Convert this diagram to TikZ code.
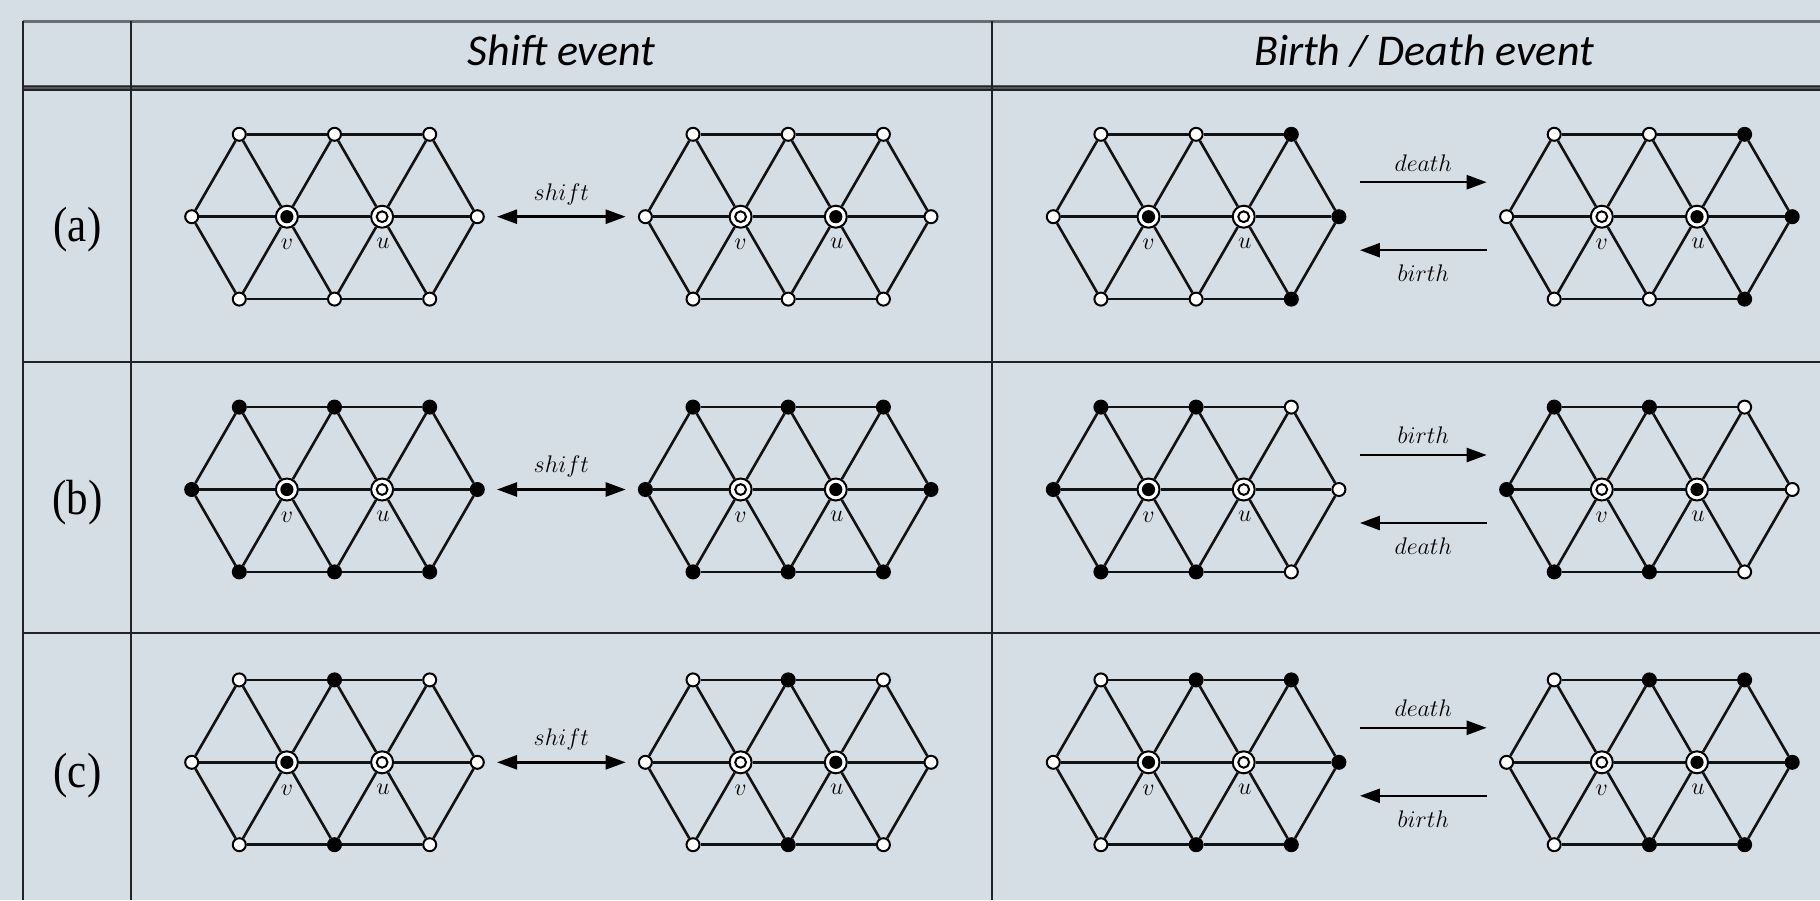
\documentclass[tikz,border=0pt]{standalone}
\usepackage{fontspec}
\newfontfamily\hdrfont{Carlito}
\newfontfamily\rowfont{Liberation Serif}
\usetikzlibrary{arrows.meta}
\definecolor{bg}{RGB}{214,222,229}
\definecolor{rulecol}{RGB}{32,34,38}
\definecolor{toprule}{RGB}{105,110,116}
\newcommand\lblsize{\fontsize{12}{14}\selectfont}
% #1 prefix, #2 x of left vertex, #3 y of middle row, #4 T1/L, #5 T2, #6 T3/R, #7 v style, #8 u style
\newcommand\hexa[8]{%
  \node[#4] (#1L)  at (#2,#3) {};
  \node[#7] (#1v)  at ({#2+95.2},#3) {};
  \node[#8] (#1u)  at ({#2+190.4},#3) {};
  \node[#6] (#1R)  at ({#2+285.6},#3) {};
  \node[#4] (#1T1) at ({#2+47.6},{#3-82.4}) {};
  \node[#5] (#1T2) at ({#2+142.8},{#3-82.4}) {};
  \node[#6] (#1T3) at ({#2+238},{#3-82.4}) {};
  \node[#4] (#1B1) at ({#2+47.6},{#3+82.4}) {};
  \node[#5] (#1B2) at ({#2+142.8},{#3+82.4}) {};
  \node[#6] (#1B3) at ({#2+238},{#3+82.4}) {};
  \draw[edge] (#1T1)--(#1T2)--(#1T3);
  \draw[edge] (#1L)--(#1v)--(#1u)--(#1R);
  \draw[edge] (#1B1)--(#1B2)--(#1B3);
  \draw[edge] (#1L)--(#1T1)--(#1v)--(#1T2)--(#1u)--(#1T3)--(#1R);
  \draw[edge] (#1L)--(#1B1)--(#1v)--(#1B2)--(#1u)--(#1B3)--(#1R);
  \node[lbl] (#1vl) at ({#2+95.2},{#3+28}) {$v$};
  \node[lbl] (#1ul) at ({#2+191.4},{#3+27}) {$u$};
}
\newcommand\shiftarr[2]{%
  \draw[arr2] (#1R) -- (#2L) node[midway,lbl,anchor=base,yshift=8.3pt] {$shift$};
}
\newcommand\bdarr[4]{%
  \draw[arr] ([xshift=10.5pt,yshift=17.25pt]#1R.center) -- ([xshift=-9.95pt,yshift=17.25pt]#2L.center)
     node[midway,lbl,anchor=base,yshift=5.6pt] {$#3$};
  \draw[arr] ([xshift=-9.95pt,yshift=-16.75pt]#2L.center) -- ([xshift=10.5pt,yshift=-16.75pt]#1R.center)
     node[midway,lbl,anchor=north,yshift=-6.7pt] {$#4$};
}
\begin{document}
\begin{tikzpicture}[x=0.5pt,y=-0.5pt,
  edge/.style={line width=1.3pt,color=black!93},
  vbase/.style={circle,draw=black,line width=1pt,inner sep=0pt,minimum size=6.5pt},
  wv/.style={vbase,fill=white},
  bv/.style={vbase,fill=black},
  ringb/.style={circle,draw=black,fill=white,line width=1pt,inner sep=0pt,minimum size=11pt,
    path picture={\fill[black] (path picture bounding box.center) circle (3.3pt);}},
  ringw/.style={circle,draw=black,fill=white,line width=1pt,inner sep=0pt,minimum size=11pt,
    path picture={\draw[black,line width=1pt] (path picture bounding box.center) circle (2.7pt);}},
  lbl/.style={inner sep=0pt,font=\lblsize},
  arr/.style={line width=1.25pt,-{Triangle[length=10pt,width=7pt]}},
  arr2/.style={line width=1.25pt,{Triangle[length=10pt,width=7pt]}-{Triangle[length=10pt,width=7pt]},
    shorten <=6.1pt, shorten >=6.1pt},
  hdr/.style={inner sep=0pt,anchor=base,font={\fontsize{22}{26}\selectfont\hdrfont\itshape}},
  rowlab/.style={inner sep=0pt,font={\rowfont\fontsize{21.5}{24}\selectfont}},
  tline/.style={line width=1pt,color=rulecol}
]
\fill[bg] (0,0) rectangle (1820,900);
\useasboundingbox (0,0) rectangle (1820,900);

% table rules
\draw[line width=1.3pt,color=toprule] (22.7,21.7) -- (1820,21.7);
\draw[line width=3pt,color=black!60!bg] (22.7,88) -- (1820,88);
\draw[line width=0.8pt,color=rulecol] (22.7,86.3) -- (1820,86.3);
\draw[line width=0.8pt,color=rulecol] (22.7,89.8) -- (1820,89.8);
\draw[tline] (22.7,361.7) -- (1820,361.7);
\draw[tline] (22.7,633) -- (1820,633);
\draw[tline] (22.7,21) -- (22.7,900);
\draw[tline] (131,21) -- (131,900);
\draw[tline] (992.4,21) -- (992.4,900);

% headers
\node[hdr] (hshift) at (561.5,65) {Shift event};
\node[hdr] (hbd) at (1424,65) {Birth / Death event};

% row labels
\node[rowlab] (ra) at (77.5,230) {\scalebox{1}[1.15]{(a)}};
\node[rowlab] (rb) at (77.5,503) {\scalebox{1}[1.15]{(b)}};
\node[rowlab] (rc) at (77.5,776) {\scalebox{1}[1.15]{(c)}};

% row (a)
\hexa{a1}{191.7}{216.7}{wv}{wv}{wv}{ringb}{ringw}
\hexa{a2}{645.4}{216.7}{wv}{wv}{wv}{ringw}{ringb}
\hexa{a3}{1053.3}{216.7}{wv}{wv}{bv}{ringb}{ringw}
\hexa{a4}{1506.6}{216.7}{wv}{wv}{bv}{ringw}{ringb}
\shiftarr{a1}{a2}
\bdarr{a3}{a4}{death}{birth}

% row (b)
\hexa{b1}{191.7}{489.5}{bv}{bv}{bv}{ringb}{ringw}
\hexa{b2}{645.4}{489.5}{bv}{bv}{bv}{ringw}{ringb}
\hexa{b3}{1053.3}{489.5}{bv}{bv}{wv}{ringb}{ringw}
\hexa{b4}{1506.6}{489.5}{bv}{bv}{wv}{ringw}{ringb}
\shiftarr{b1}{b2}
\bdarr{b3}{b4}{birth}{death}

% row (c)
\hexa{c1}{191.7}{762.3}{wv}{bv}{wv}{ringb}{ringw}
\hexa{c2}{645.4}{762.3}{wv}{bv}{wv}{ringw}{ringb}
\hexa{c3}{1053.3}{762.3}{wv}{bv}{bv}{ringb}{ringw}
\hexa{c4}{1506.6}{762.3}{wv}{bv}{bv}{ringw}{ringb}
\shiftarr{c1}{c2}
\bdarr{c3}{c4}{death}{birth}
\end{tikzpicture}
\end{document}
